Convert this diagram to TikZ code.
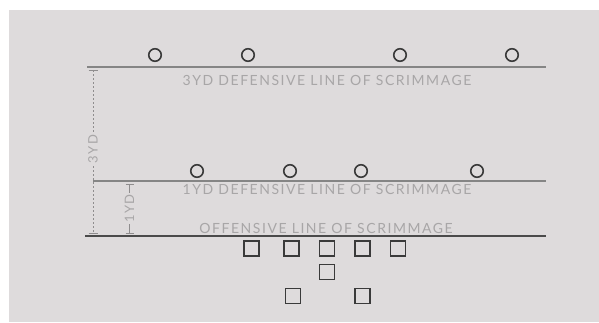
\documentclass[tikz,border=0pt]{standalone}
\usepackage{fontspec}
\setmainfont{Lato}
\newfontfamily\lblfont[LetterSpace=11]{Lato}
\definecolor{bgc}{HTML}{DEDBDC}
\definecolor{linec}{HTML}{858585}
\definecolor{offc}{HTML}{4A4A4A}
\definecolor{txtc}{HTML}{A8A6A7}
\definecolor{plc}{HTML}{3A3A3A}
\tikzset{
  defp/.style={circle,draw=plc,line width=1.6pt,minimum size=12.5pt,inner sep=0pt},
  offp/.style={rectangle,draw=plc,line width=1.6pt,minimum size=15pt,inner sep=0pt},
  linelabel/.style={text=txtc,font=\lblfont\fontsize{14}{14}\selectfont,inner sep=0pt},
  dimlabel/.style={text=txtc,font=\lblfont\fontsize{13}{13}\selectfont,rotate=90,fill=bgc,inner sep=1pt},
  defline/.style={draw=linec,line width=2pt},
  offline/.style={draw=offc,line width=2.4pt},
  dim/.style={draw=txtc!85!black,line width=0.9pt},
}
\begin{document}
\begin{tikzpicture}[x=1pt,y=-1pt]
\useasboundingbox (0,0) rectangle (599,322);
\fill[bgc] (9,10) rectangle (599,322);
% lines
\coordinate (l3a) at (87,67);  \coordinate (l3b) at (546,67);
\coordinate (l1a) at (93,181); \coordinate (l1b) at (546,181);
\coordinate (loa) at (85,236); \coordinate (lob) at (546,236);
\draw[defline] (l3a) -- (l3b);
\draw[defline] (l1a) -- (l1b);
\draw[offline] (loa) -- (lob);
% labels
\node[linelabel] (t3) at (327,80) {3YD DEFENSIVE LINE OF SCRIMMAGE};
\node[linelabel] (t1) at (327,189.5) {1YD DEFENSIVE LINE OF SCRIMMAGE};
\node[linelabel] (to) at (326,228.5) {OFFENSIVE LINE OF SCRIMMAGE};
% defenders
\node[defp] (d1) at (155,55) {};
\node[defp] (d2) at (248,55) {};
\node[defp] (d3) at (400,55) {};
\node[defp] (d4) at (512,55) {};
\node[defp] (e1) at (197,171) {};
\node[defp] (e2) at (290,171) {};
\node[defp] (e3) at (361,171) {};
\node[defp] (e4) at (477,171) {};
% offense
\node[offp] (o1) at (251.5,248.5) {};
\node[offp] (o2) at (291.5,248.5) {};
\node[offp] (o3) at (327,248.5) {};
\node[offp] (o4) at (362.5,248.5) {};
\node[offp] (o5) at (398,248.5) {};
\node[offp] (q)  at (327,272) {};
\node[offp] (b1) at (293,296) {};
\node[offp] (b2) at (362.5,296) {};
% 3YD dimension
\coordinate (a3t) at (93,70);
\coordinate (a3b) at (93,233);
\draw[dim,dash pattern=on 1.5pt off 2.5pt] (a3t) -- (a3b);
\draw[dim] ([xshift=-4.5pt]a3t) -- ([xshift=4.5pt]a3t);
\draw[dim] ([xshift=-4.5pt]a3b) -- ([xshift=4.5pt]a3b);
\node[dimlabel] (n3) at (93,149) {3YD};
% 1YD dimension
\coordinate (a1t) at (129.5,184);
\coordinate (a1b) at (129.5,233);
\draw[dim] (a1t) -- (a1b);
\draw[dim] ([xshift=-4pt]a1t) -- ([xshift=4pt]a1t);
\draw[dim] ([xshift=-4pt]a1b) -- ([xshift=4pt]a1b);
\node[dimlabel] (n1) at (129.5,208.5) {1YD};
\end{tikzpicture}
\end{document}
